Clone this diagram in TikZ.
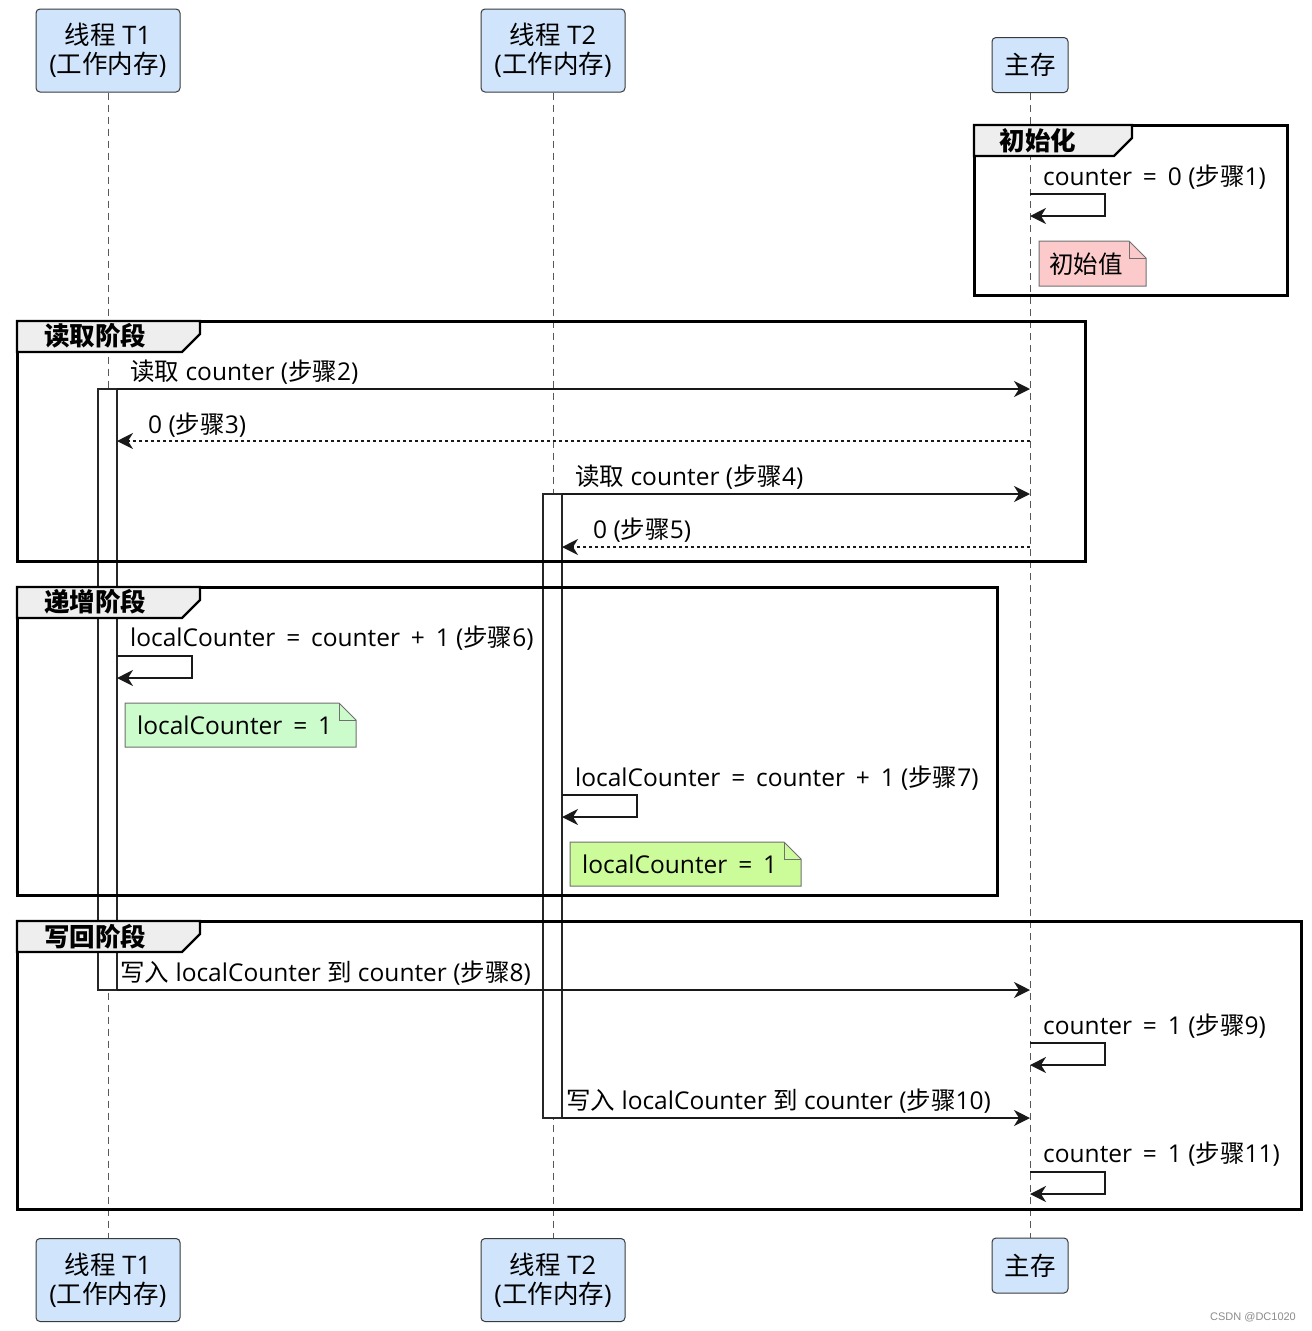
\documentclass[tikz,border=0pt]{standalone}
\usepackage{fontspec}
\setmainfont{Open Sans}
\newfontfamily\cjk{Noto Sans CJK SC}
\newfontfamily\wmfont{Liberation Sans}
\usetikzlibrary{arrows.meta}
\newcommand\myeq{\ \hspace{4.5pt}=\hspace{4.5pt}\ }
\newcommand\myplus{\ \hspace{4.5pt}+\hspace{4.5pt}\ }
\definecolor{partfill}{HTML}{D0E4FC}
\definecolor{partdraw}{HTML}{3A3A3A}
\definecolor{tabfill}{HTML}{EEEEEE}
\definecolor{notepink}{HTML}{FCCACA}
\definecolor{notegreen}{HTML}{CCFCCC}
\definecolor{notelime}{HTML}{CCFC99}
\definecolor{notedraw}{HTML}{707070}
\tikzset{
  part/.style={draw=partdraw, fill=partfill, line width=1pt, rounded corners=4pt, align=center,
     minimum width=144pt, minimum height=83pt, inner sep=0pt, font=\fontsize{25.5}{29}\selectfont},
  partsm/.style={part, minimum width=76pt, minimum height=55pt},
  life/.style={draw=black!65, line width=1pt, dash pattern=on 7pt off 5pt},
  actbar/.style={draw=black!85, fill=white, line width=1.4pt},
  frm/.style={draw=black, line width=3pt},
  tabshape/.style={draw=black, line width=2.2pt, fill=tabfill, line join=miter},
  tablabel/.style={font=\cjk\bfseries\fontsize{25.5}{29}\selectfont, inner sep=0pt},
  lbl/.style={anchor=west, inner sep=0pt, font=\fontsize{24.5}{29}\selectfont},
  msg/.style={draw=black!90, line width=1.5pt, -{Stealth[length=16pt,width=16pt,inset=5pt]}},
  rmsg/.style={msg, dash pattern=on 3pt off 3pt},
  notebox/.style={draw=notedraw, line width=1pt},
}
\begin{document}
\begin{tikzpicture}[x=1pt,y=-1pt]
\useasboundingbox (0,0) rectangle (1312,1331);
\fill[white] (0,0) rectangle (1312,1331);

% participants
\node[part] (t1top) at (108,50.5) {{\cjk 线程} T1\\({\cjk 工作内存})};
\node[part] (t2top) at (553,50.5) {{\cjk 线程} T2\\({\cjk 工作内存})};
\node[partsm] (mmtop) at (1030,65) {\cjk 主存};
\node[part] (t1bot) at (108,1280) {{\cjk 线程} T1\\({\cjk 工作内存})};
\node[part] (t2bot) at (553,1280) {{\cjk 线程} T2\\({\cjk 工作内存})};
\node[partsm] (mmbot) at (1030,1265.5) {\cjk 主存};

% lifelines
\draw[life] (t1top.south) -- (t1bot.north);
\draw[life] (t2top.south) -- (t2bot.north);
\draw[life] (mmtop.south) -- (mmbot.north);

% activation bars
\draw[actbar] (98,389) rectangle (117,990);
\draw[actbar] (543,494) rectangle (562,1118);

% frames
\draw[frm] (974,125) rectangle (1287,295);
\draw[tabshape] (974,125) -- (1132,125) -- (1132,138) -- (1114,156) -- (974,156) -- cycle;
\node[tablabel] (f0) at (1038,141) {初始化};

\draw[frm] (17,321) rectangle (1085,561);
\draw[tabshape] (17,321) -- (200,321) -- (200,334) -- (182,352) -- (17,352) -- cycle;
\node[tablabel] (f1) at (95,336) {读取阶段};

\draw[frm] (17,587) rectangle (997,895);
\draw[tabshape] (17,587) -- (200,587) -- (200,600) -- (182,618) -- (17,618) -- cycle;
\node[tablabel] (f2) at (95,602) {递增阶段};

\draw[frm] (17,921) rectangle (1301,1209);
\draw[tabshape] (17,921) -- (200,921) -- (200,934) -- (182,952) -- (17,952) -- cycle;
\node[tablabel] (f3) at (95,937) {写回阶段};

% message end points
\coordinate (s1a) at (1030,194); \coordinate (s1b) at (1105,194);
\coordinate (s1c) at (1105,216); \coordinate (s1d) at (1030,216);
\coordinate (m2a) at (117,389); \coordinate (m2b) at (1030,389);
\coordinate (m3a) at (1030,441); \coordinate (m3b) at (117,441);
\coordinate (m4a) at (562,494); \coordinate (m4b) at (1030,494);
\coordinate (m5a) at (1030,547); \coordinate (m5b) at (562,547);
\coordinate (s6a) at (117,656); \coordinate (s6b) at (192,656);
\coordinate (s6c) at (192,678); \coordinate (s6d) at (117,678);
\coordinate (s7a) at (562,795); \coordinate (s7b) at (637,795);
\coordinate (s7c) at (637,817); \coordinate (s7d) at (562,817);
\coordinate (m8a) at (117,990); \coordinate (m8b) at (1030,990);
\coordinate (s9a) at (1030,1043); \coordinate (s9b) at (1105,1043);
\coordinate (s9c) at (1105,1065); \coordinate (s9d) at (1030,1065);
\coordinate (m10a) at (562,1118); \coordinate (m10b) at (1030,1118);
\coordinate (s11a) at (1030,1172); \coordinate (s11b) at (1105,1172);
\coordinate (s11c) at (1105,1194); \coordinate (s11d) at (1030,1194);

% messages
\draw[msg] (s1a) -- (s1b) -- (s1c) -- (s1d);
\node[lbl] (l1) at (1043,177) {counter\myeq 0 ({\cjk 步骤}1)};

\draw[msg] (m2a) -- (m2b);
\node[lbl] (l2) at (130,372) {{\cjk 读取} counter ({\cjk 步骤}2)};
\draw[rmsg] (m3a) -- (m3b);
\node[lbl] (l3) at (148,425) {0 ({\cjk 步骤}3)};
\draw[msg] (m4a) -- (m4b);
\node[lbl] (l4) at (575,477) {{\cjk 读取} counter ({\cjk 步骤}4)};
\draw[rmsg] (m5a) -- (m5b);
\node[lbl] (l5) at (593,530) {0 ({\cjk 步骤}5)};

\draw[msg] (s6a) -- (s6b) -- (s6c) -- (s6d);
\node[lbl] (l6) at (130,638) {localCounter\myeq counter\myplus 1 ({\cjk 步骤}6)};
\draw[msg] (s7a) -- (s7b) -- (s7c) -- (s7d);
\node[lbl] (l7) at (575,778) {localCounter\myeq counter\myplus 1 ({\cjk 步骤}7)};

\draw[msg] (m8a) -- (m8b);
\node[lbl] (l8) at (120,973) {{\cjk 写入} localCounter {\cjk 到} counter ({\cjk 步骤}8)};
\draw[msg] (s9a) -- (s9b) -- (s9c) -- (s9d);
\node[lbl] (l9) at (1043,1026) {counter\myeq 1 ({\cjk 步骤}9)};
\draw[msg] (m10a) -- (m10b);
\node[lbl] (l10) at (566,1101) {{\cjk 写入} localCounter {\cjk 到} counter ({\cjk 步骤}10)};
\draw[msg] (s11a) -- (s11b) -- (s11c) -- (s11d);
\node[lbl] (l11) at (1043,1154) {counter\myeq 1 ({\cjk 步骤}11)};

% notes
\draw[notebox, fill=notepink] (1039,241) -- (1129,241) -- (1146,258) -- (1146,286) -- (1039,286) -- cycle;
\draw[notebox] (1129,241) -- (1129,258) -- (1146,258);
\node[lbl] (n0) at (1049,264) {\cjk 初始值};

\draw[notebox, fill=notegreen] (125,703) -- (339,703) -- (356,720) -- (356,747) -- (125,747) -- cycle;
\draw[notebox] (339,703) -- (339,720) -- (356,720);
\node[lbl] (n1) at (137,725) {localCounter\myeq 1};

\draw[notebox, fill=notelime] (570,842) -- (784,842) -- (801,859) -- (801,886) -- (570,886) -- cycle;
\draw[notebox] (784,842) -- (784,859) -- (801,859);
\node[lbl] (n2) at (582,864) {localCounter\myeq 1};

% watermark
\node[font=\wmfont\fontsize{11}{13}\selectfont, text=black!45, inner sep=0pt] (wm) at (1253,1317) {CSDN @DC1020};
\end{tikzpicture}
\end{document}
